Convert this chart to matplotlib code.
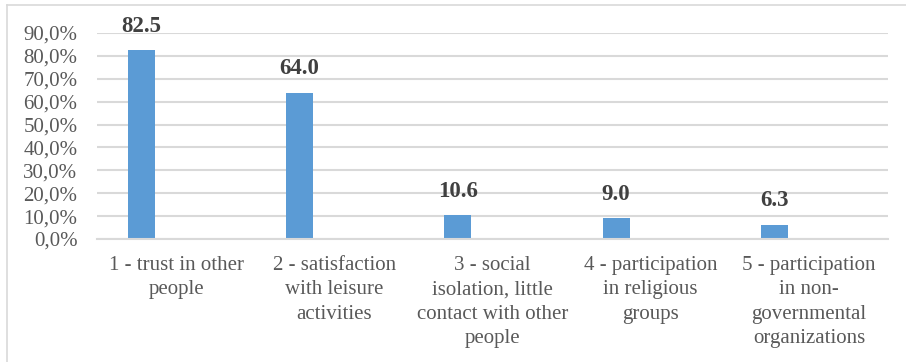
import matplotlib.pyplot as plt
from matplotlib.lines import Line2D
from matplotlib.ticker import FuncFormatter

categories = [
    '1 - trust in other\npeople',
    '2 - satisfaction\nwith leisure\nactivities',
    '3 - social\nisolation, little\ncontact with other\npeople',
    '4 - participation\nin religious\ngroups',
    '5 - participation\nin non-\ngovernmental\norganizations',
]
values = [82.5, 64.0, 10.6, 9.0, 6.3]
yticks = [0, 10, 20, 30, 40, 50, 60, 70, 80, 90]

plt.rcParams['font.family'] = ['Liberation Serif', 'DejaVu Serif']

fig = plt.figure(figsize=(9.06, 3.62), dpi=100)
ax = fig.add_axes([97 / 906, 1 - 239 / 362, 791 / 906, 206 / 362])

# bars sit left of the category centre, like a clustered chart
xs = [i - 0.219 for i in range(len(values))]
ax.bar(xs, values, width=0.171, color='#5b9bd5', zorder=3)
for x, v in zip(xs, values):
    ax.annotate(f'{v:.1f}', (x, v), xytext=(0, 9.5), textcoords='offset points',
                ha='center', va='bottom', fontsize=16.5, fontweight='bold',
                color='#404040')

ax.set_xlim(-0.5, len(values) - 0.5)
ax.set_ylim(0, 90)
ax.set_yticks(yticks)
ax.yaxis.set_major_formatter(FuncFormatter(lambda v, p: f'{v:.1f}%'.replace('.', ',')))
ax.set_xticks(range(len(categories)))
ax.set_xticklabels(categories, linespacing=1.4)
ax.tick_params(axis='both', length=0, labelsize=15, colors='#595959')
ax.tick_params(axis='x', pad=12)
ax.tick_params(axis='y', pad=14)
ax.grid(axis='y', color='#d9d9d9', linewidth=1.5, zorder=0)
for s in ['top', 'right', 'left']:
    ax.spines[s].set_visible(False)
ax.spines['bottom'].set_color('#d9d9d9')
ax.spines['bottom'].set_linewidth(1.5)
ax.spines['bottom'].set_zorder(4)

# chart area border
fig.add_artist(Line2D([6.5 / 906, 6.5 / 906], [0, 1 - 4.5 / 362], color='#d9d9d9', lw=1.2))
fig.add_artist(Line2D([6.5 / 906, 1], [1 - 4.5 / 362, 1 - 4.5 / 362], color='#d9d9d9', lw=1.2))

fig.savefig('out.png', dpi=100)
